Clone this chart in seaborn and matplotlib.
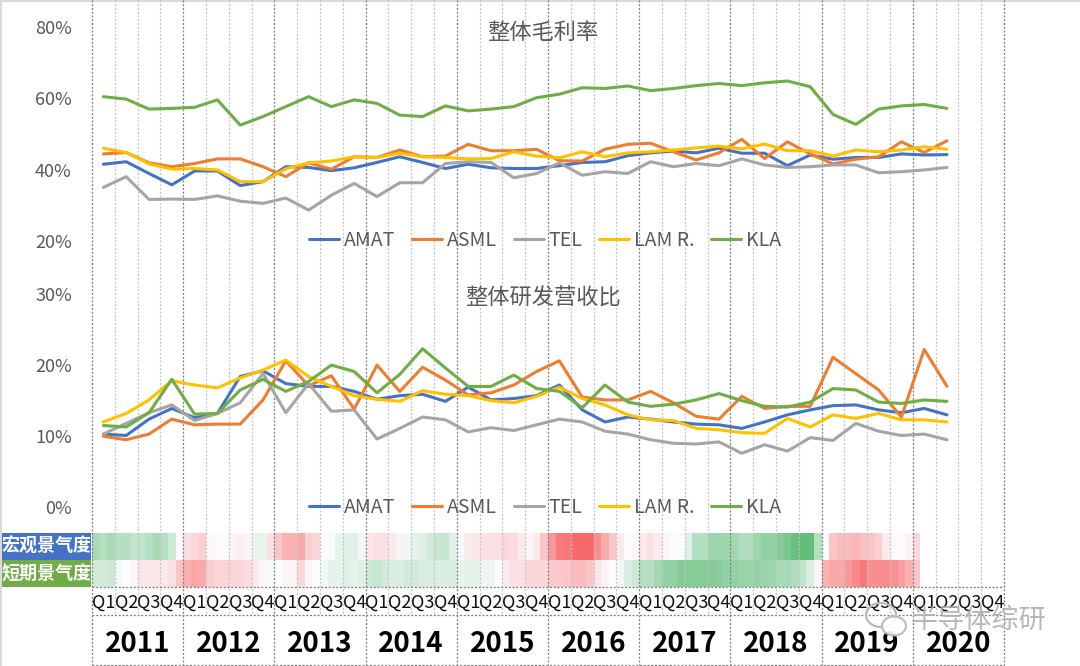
import numpy as np
import pandas as pd
import matplotlib
matplotlib.use('Agg')
import matplotlib.pyplot as plt
import seaborn as sns
from matplotlib.colors import LinearSegmentedColormap
from matplotlib.patches import Rectangle, Ellipse

# 分类与标签
years = [str(y) for y in range(2011, 2021)]
quarter_names = ['Q1', 'Q2', 'Q3', 'Q4']
companies = ['AMAT', 'ASML', 'TEL', 'LAM R.', 'KLA']
colors = ['#4472C4', '#ED7D31', '#A5A5A5', '#FFC000', '#70AD47']

# 整体毛利率 (%)，2011Q1 - 2020Q2
gm_amat = [41.5, 42.2, 38.9, 35.7, 39.6, 39.6, 35.5, 36.6, 40.8, 40.6, 39.7, 40.5,
           42.0, 43.6, 42.0, 40.3, 41.5, 40.5, 40.3, 40.3, 41.1, 42.0, 42.2, 43.9,
           44.7, 45.2, 44.7, 46.0, 44.6, 44.6, 41.1, 44.1, 42.9, 43.4, 43.4, 44.4, 44.1, 44.2]
gm_asml = [44.4, 44.8, 41.9, 40.8, 41.7, 43.0, 43.0, 40.8, 38.0, 41.9, 40.1, 43.6,
           43.4, 45.5, 43.6, 43.8, 47.1, 45.3, 45.3, 45.7, 42.5, 42.4, 45.7, 47.1,
           47.4, 45.0, 42.7, 44.7, 48.5, 43.1, 47.8, 44.4, 41.6, 42.9, 43.6, 47.8, 44.8, 48.1]
gm_tel = [35.0, 38.0, 31.6, 31.7, 31.6, 32.6, 31.1, 30.5, 32.0, 28.6, 32.8, 36.1,
          32.4, 36.3, 36.3, 41.7, 42.2, 42.0, 37.7, 38.9, 41.9, 38.4, 39.4, 38.9,
          42.2, 40.8, 41.7, 41.1, 43.0, 41.3, 40.6, 40.8, 41.3, 41.3, 39.1, 39.4, 39.9, 40.6]
gm_lam = [46.0, 44.8, 41.6, 40.1, 40.3, 39.9, 36.6, 36.6, 40.2, 41.9, 42.4, 43.6,
          43.4, 44.6, 43.6, 43.4, 43.0, 43.1, 45.0, 43.8, 43.3, 45.0, 43.6, 44.7,
          45.0, 45.5, 46.1, 46.6, 45.8, 47.2, 45.3, 45.3, 43.8, 45.5, 45.0, 45.5, 46.4, 45.7]
gm_kla = [60.5, 59.8, 57.0, 57.2, 57.5, 59.6, 52.5, 54.9, 57.7, 60.5, 57.7, 59.6,
          58.6, 55.3, 54.9, 57.9, 56.5, 57.0, 57.7, 60.2, 61.2, 63.0, 62.8, 63.5,
          62.2, 62.8, 63.6, 64.2, 63.6, 64.4, 64.9, 63.3, 55.5, 52.7, 57.0, 57.9, 58.3, 57.2]

# 整体研发营收比 (%)
rd_amat = [10.3, 10.1, 12.4, 13.9, 12.6, 13.2, 18.4, 19.2, 17.4, 17.0, 17.0, 16.3,
           15.2, 15.7, 15.9, 14.9, 16.9, 15.1, 15.3, 15.7, 17.2, 13.7, 12.0, 12.7,
           12.4, 12.0, 11.7, 11.6, 11.1, 12.0, 13.0, 13.7, 14.3, 14.4, 13.7, 13.3, 13.9, 13.0]
rd_asml = [10.0, 9.5, 10.3, 12.4, 11.6, 11.7, 11.7, 15.1, 20.6, 17.1, 18.5, 13.8,
           20.0, 16.3, 19.7, 17.9, 15.8, 16.1, 17.2, 19.1, 20.6, 15.5, 15.1, 15.1,
           16.3, 14.7, 12.8, 12.4, 15.6, 13.9, 14.2, 14.2, 21.1, 18.8, 16.5, 12.7, 22.2, 17.0]
rd_tel = [10.3, 11.8, 13.3, 14.4, 12.2, 13.2, 14.7, 18.8, 13.3, 17.4, 13.5, 13.7,
          9.6, 11.1, 12.7, 12.3, 10.6, 11.2, 10.8, 11.6, 12.4, 12.0, 10.7, 10.3,
          9.5, 9.0, 8.9, 9.2, 7.6, 8.8, 7.9, 9.8, 9.4, 11.8, 10.7, 10.1, 10.3, 9.5]
rd_lam = [12.0, 13.2, 15.1, 17.8, 17.2, 16.8, 18.2, 19.3, 20.7, 18.4, 17.0, 15.7,
          15.2, 14.9, 16.4, 15.9, 15.7, 15.0, 14.7, 15.6, 16.9, 15.3, 14.4, 13.0,
          12.3, 12.2, 11.1, 10.9, 10.5, 10.4, 12.5, 11.3, 13.0, 12.5, 13.2, 12.3, 12.3, 12.0]
rd_kla = [11.5, 11.3, 13.3, 18.0, 13.1, 13.2, 16.5, 18.0, 16.3, 17.7, 20.0, 19.1,
          16.1, 18.7, 22.3, 19.6, 17.0, 17.0, 18.6, 16.7, 16.3, 14.0, 17.2, 14.8,
          14.2, 14.5, 15.1, 16.0, 15.0, 14.2, 14.1, 14.8, 16.7, 16.5, 14.8, 14.6, 15.1, 14.9]

# 景气度 (月度, 2011-01 .. 2020-01)，负值偏冷(红)，正值偏热(绿)
macro_mood = [0.35, 0.3, 0.35, 0.3, 0.3, 0.25, 0.25, 0.3, 0.35, 0.3, 0.2, 0.0,
              -0.15, -0.2, -0.25, -0.02, -0.02, 0.0, -0.05, -0.07, -0.05, 0.08, 0.1, -0.15,
              -0.3, -0.4, -0.4, -0.45, -0.25, -0.2, 0.0, 0.02, 0.1, 0.12, 0.12, 0.05,
              -0.12, -0.15, -0.15, -0.1, -0.05, 0.05, 0.1, 0.12, 0.18, 0.22, 0.22, 0.12,
              0.03, -0.1, -0.12, -0.15, -0.15, -0.15, -0.2, -0.18, -0.1, -0.03, -0.1, -0.3,
              -0.55, -0.7, -0.72, -0.85, -0.88, -0.82, -0.6, -0.45, -0.3, -0.1, 0.0, -0.03,
              -0.1, -0.15, -0.1, -0.05, 0.0, 0.02, 0.12, 0.3, 0.3, 0.4, 0.4, 0.4,
              0.38, 0.32, 0.32, 0.4, 0.45, 0.45, 0.5, 0.55, 0.62, 0.75, 0.65, 0.3,
              0.02, -0.3, -0.35, -0.35, -0.38, -0.32, -0.3, -0.25, -0.1, -0.02, 0.0, -0.05,
              -0.2]
short_mood = [0.18, 0.18, 0.2, 0.05, 0.0, -0.05, -0.12, -0.12, -0.12, -0.12, -0.15, -0.3,
              -0.42, -0.48, -0.45, -0.25, -0.22, -0.22, -0.2, -0.2, -0.18, -0.1, -0.03, 0.03,
              0.0, -0.05, -0.05, -0.2, -0.05, 0.0, 0.05, 0.1, 0.1, 0.12, 0.1, 0.12,
              0.2, 0.22, 0.18, 0.15, 0.15, 0.18, 0.18, 0.15, 0.15, 0.15, 0.15, 0.15,
              0.08, 0.1, 0.1, 0.06, 0.06, 0.0, -0.1, -0.15, -0.15, -0.2, -0.2, -0.2,
              -0.28, -0.28, -0.3, -0.35, -0.35, -0.3, -0.12, -0.05, 0.0, 0.05, 0.15, 0.2,
              0.3, 0.3, 0.38, 0.45, 0.45, 0.5, 0.5, 0.5, 0.5, 0.5, 0.48, 0.45,
              0.45, 0.42, 0.42, 0.45, 0.42, 0.4, 0.35, 0.35, 0.32, 0.25, 0.15, -0.05,
              -0.4, -0.45, -0.45, -0.55, -0.62, -0.72, -0.6, -0.6, -0.6, -0.58, -0.5, -0.42,
              -0.3]

sns.set_theme(style='white')
plt.rcParams['font.family'] = ['Noto Sans CJK SC', 'DejaVu Sans']

W, H = 1080, 666
X0, X1 = 92, 1004
n_q = len(years) * 4
fig = plt.figure(figsize=(W / 100, H / 100), dpi=100)


def box(x0, y0, x1, y1):
    # 像素框 (左上角为原点) -> figure 坐标
    return [x0 / W, 1 - y1 / H, (x1 - x0) / W, (y1 - y0) / H]


def long_df(series):
    n = len(series[0])
    return pd.DataFrame({
        'pos': np.tile(np.arange(n) + 0.5, len(companies)),
        'company': np.repeat(companies, n),
        'value': np.concatenate(series),
    })


gm = long_df([gm_amat, gm_asml, gm_tel, gm_lam, gm_kla])
rd = long_df([rd_amat, rd_asml, rd_tel, rd_lam, rd_kla])

# 背景: 左侧标签框、边框
bg = fig.add_axes([0, 0, 1, 1], zorder=0)
bg.set_xlim(0, W)
bg.set_ylim(H, 0)
bg.axis('off')
bg.plot([1, 1], [0, H], color='#d9d9d9', lw=1.5)
bg.plot([0, W], [1, 1], color='#d9d9d9', lw=1.5)
bg.add_patch(Rectangle((1, 532.7), 90, 26.9, color='#4472C4', lw=0))
bg.add_patch(Rectangle((1, 559.6), 90, 27.5, color='#70AD47', lw=0))
bg.text(46, 546.5, '宏观景气度', color='white', fontsize=13, fontweight='bold', ha='center', va='center')
bg.text(46, 573.5, '短期景气度', color='white', fontsize=13, fontweight='bold', ha='center', va='center')

# 景气度热力图 (Excel 三色刻度: 红-白-绿)
vlo, vhi = -0.8, 0.65
cmap = LinearSegmentedColormap.from_list(
    'excel3', [(0, '#F8696B'), (-vlo / (vhi - vlo), '#FCFCFF'), (1, '#63BE7B')])
mood = np.full((2, n_q * 3), np.nan)
mood[0, :len(macro_mood)] = macro_mood
mood[1, :len(short_mood)] = short_mood
hax = fig.add_axes(box(X0, 532.7, X1, 587.1), zorder=1)
sns.heatmap(mood, ax=hax, cmap=cmap, vmin=vlo, vmax=vhi, cbar=False,
            xticklabels=False, yticklabels=False)

# 网格与底部表格
gax = fig.add_axes(box(X0, 0, X1, H), zorder=2)
gax.set_xlim(0, n_q)
gax.set_ylim(H, 0)
gax.axis('off')
dots = (0, (1.6, 1.4))
for k in range(n_q + 1):
    if k % 4 == 0:
        gax.vlines(k, 0, 665, colors='#7f7f7f', linestyles=dots, lw=0.9, clip_on=False)
    else:
        gax.vlines(k, 0, 614.7, colors='#c4c4c4', linestyles=dots, lw=0.9, clip_on=False)
gax.hlines([587.1, 614.7, 665], 0, n_q, colors='#7f7f7f', linestyles=dots, lw=0.9, clip_on=False)
for k in range(n_q):
    gax.text(k + 0.5, 608, quarter_names[k % 4], fontsize=13, color='#111111',
             ha='center', va='baseline')
for j, y in enumerate(years):
    gax.text(4 * j + 2, 652.5, y, fontsize=20, fontweight='bold', color='black',
             ha='center', va='baseline')


def style_chart(ax, df, ylim, ticks, title, title_y):
    sns.lineplot(data=df, x='pos', y='value', hue='company', palette=colors,
                 linewidth=2.2, ax=ax)
    ax.set_facecolor('none')
    ax.set_xlim(0, n_q)
    ax.set_ylim(*ylim)
    ax.set_xticks([])
    ax.set_yticks(ticks)
    ax.set_yticklabels([f'{t}%' for t in ticks])
    ax.tick_params(axis='y', length=0, pad=14.5, labelsize=13, labelcolor='#595959')
    ax.set_xlabel('')
    ax.set_ylabel('')
    for s in ax.spines.values():
        s.set_visible(False)
    ax.text(0.4945, title_y, title, transform=ax.transAxes, fontsize=16,
            color='#595959', ha='center', va='center')
    sns.move_legend(ax, 'center', bbox_to_anchor=(0.497, 0.0), ncol=5, frameon=False,
                    title=None, fontsize=14, handlelength=1.55, handletextpad=0.25,
                    columnspacing=0.85, labelcolor='#595959')


ax1 = fig.add_axes(box(X0, 27.3, X1, 240.7), zorder=3)
style_chart(ax1, gm, (20, 80), [20, 40, 60, 80], '整体毛利率', 0.978)

ax2 = fig.add_axes(box(X0, 294, X1, 507.3), zorder=3)
style_chart(ax2, rd, (0, 30), [0, 10, 20, 30], '整体研发营收比', 0.981)

# 水印
top = fig.add_axes([0, 0, 1, 1], zorder=10)
top.set_xlim(0, W)
top.set_ylim(H, 0)
top.axis('off')
top.add_patch(Ellipse((881, 615), 30, 24, fill=False, ec='#b8b8b8', lw=1.6))
top.add_patch(Ellipse((894, 626), 24, 19, fc='white', ec='#b8b8b8', lw=1.6, alpha=0.9))
top.text(978, 620, '半导体综研', fontsize=19.5, color='#b0b0b0', alpha=0.9,
         ha='center', va='center')

fig.savefig('out.png', dpi=100, facecolor='white')
